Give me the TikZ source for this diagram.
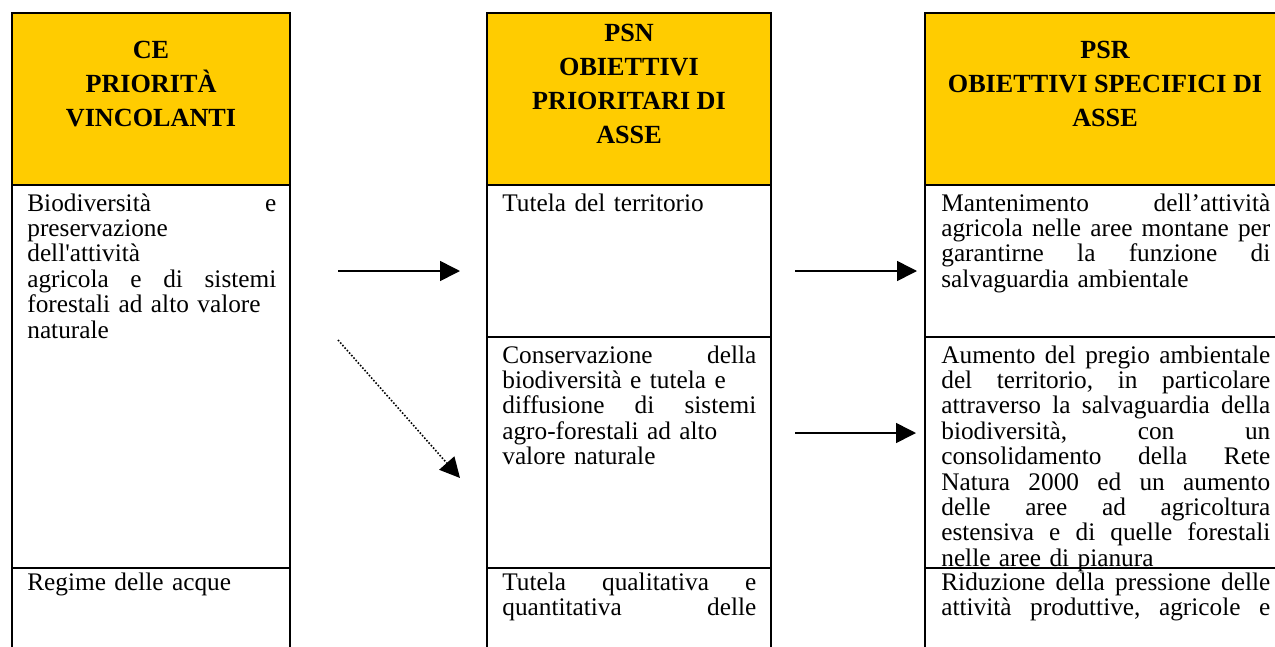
\documentclass[tikz,border=0pt]{standalone}
\usepackage{fontspec}
\setmainfont{Liberation Serif}
\usetikzlibrary{arrows.meta}

\definecolor{testata}{RGB}{255,204,0}

% riga giustificata: spazi elastici fino al margine
\newcommand{\riga}[1]{{\frenchspacing\spaceskip=0.25em plus 1fill minus 0.06em\relax #1}}

\begin{document}
\begin{tikzpicture}[x=0.02cm,y=-0.02cm,line join=miter,
  >={Triangle[length=0.4cm,width=0.4cm]},
  cella/.style={draw=black,line width=1.2pt},
  titolo/.style={font=\bfseries\fontsize{14.9}{19.35}\selectfont,align=center,inner sep=0pt},
  testo/.style={anchor=base west,inner sep=0pt,align=left,text width=#1,
    font=\fontsize{14.4}{14.46}\selectfont},
  freccia/.style={->,line width=0.9pt}]

\useasboundingbox (0,0) rectangle (1275,646);
\clip (0,0) rectangle (1275,646);

% -----------------------
% Parametri
% -----------------------
\def\yT{13}    % bordo superiore
\def\yH{185}   % fine intestazione
\def\yA{337}   % fine prima riga (PSN, PSR)
\def\yB{568}   % inizio ultima riga
\def\yZ{700}   % oltre il margine

% -----------------------
% Tabella CE
% -----------------------
\fill[testata] (12,\yT) rectangle (290,\yH);
\draw[cella] (12,\yT) rectangle (290,\yZ);
\draw[cella] (12,\yH) -- (290,\yH);
\draw[cella] (12,\yB) -- (290,\yB);

\node[titolo] (ceTit) at (151,84) {CE\\PRIORITÀ\\VINCOLANTI};
\node[testo=4.98cm] (ceBio) at (27,211)
  {\riga{Biodiversità e}\\preservazione\\dell\textquotesingle attività\\\riga{agricola e di sistemi}\\forestali ad alto valore\\naturale};
\node[testo=4.98cm] (ceAcq) at (27,590) {Regime delle acque};

% -----------------------
% Tabella PSN
% -----------------------
\fill[testata] (487,\yT) rectangle (771,\yH);
\draw[cella] (487,\yT) rectangle (771,\yZ);
\draw[cella] (487,\yH) -- (771,\yH);
\draw[cella] (487,\yA) -- (771,\yA);
\draw[cella] (487,\yB) -- (771,\yB);

\node[titolo] (psnTit) at (629,84) {PSN\\OBIETTIVI\\PRIORITARI DI\\ASSE};
\node[testo=5.08cm] (psnTer) at (502,211) {Tutela del territorio};
\node[testo=5.08cm] (psnBio) at (502,363)
  {\riga{Conservazione della}\\biodiversità e tutela e\\\riga{diffusione di sistemi}\\agro-forestali ad alto\\valore naturale};
\node[testo=5.08cm] (psnAcq) at (502,590)
  {\riga{Tutela qualitativa e}\\\riga{quantitativa delle}};

% -----------------------
% Tabella PSR
% -----------------------
\fill[testata] (925,\yT) rectangle (1283,\yH);
\draw[cella] (925,\yT) rectangle (1283,\yZ);
\draw[cella] (925,\yH) -- (1283,\yH);
\draw[cella] (925,\yA) -- (1283,\yA);
\draw[cella] (925,\yB) -- (1283,\yB);

\node[titolo] (psrTit) at (1105,84) {PSR\\OBIETTIVI SPECIFICI DI\\ASSE};
\node[testo=6.58cm] (psrMon) at (941,211)
  {\riga{Mantenimento dell’attività}\\\riga{agricola nelle aree montane per}\\\riga{garantirne la funzione di}\\salvaguardia ambientale};
\node[testo=6.58cm] (psrPre) at (941,363)
  {\riga{Aumento del pregio ambientale}\\\riga{del territorio, in particolare}\\\riga{attraverso la salvaguardia della}\\\riga{biodiversità, con un}\\\riga{consolidamento della Rete}\\\riga{Natura 2000 ed un aumento}\\\riga{delle aree ad agricoltura}\\\riga{estensiva e di quelle forestali}\\nelle aree di pianura};
\node[testo=6.58cm] (psrRid) at (941,590)
  {\riga{Riduzione della pressione delle}\\\riga{attività produttive, agricole e}};

% -----------------------
% Frecce
% -----------------------
\coordinate (f1a) at (338,271);
\coordinate (f1b) at (460,271);
\coordinate (f2a) at (795,271);
\coordinate (f2b) at (917,271);
\coordinate (f3a) at (795,433);
\coordinate (f3b) at (916,433);
\coordinate (f4a) at (338,340);
\coordinate (f4b) at (460,478);

\draw[freccia] (f1a) -- (f1b);
\draw[freccia] (f2a) -- (f2b);
\draw[freccia] (f3a) -- (f3b);
\draw[freccia,densely dotted] (f4a) -- (f4b);

\end{tikzpicture}
\end{document}
